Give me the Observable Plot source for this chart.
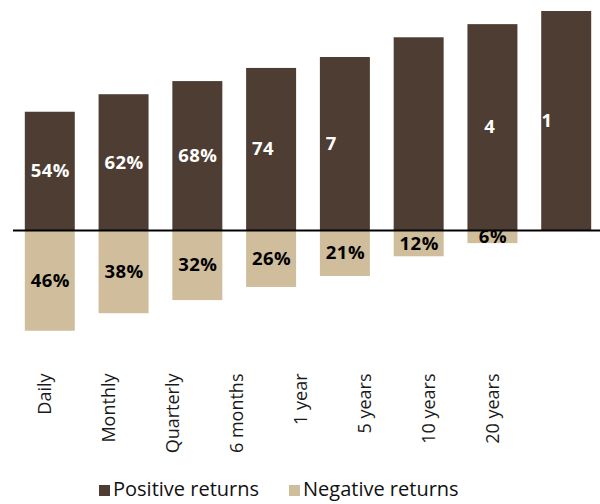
<!DOCTYPE html>
<html>
<head>
<meta charset="utf-8">
<script src="https://cdn.jsdelivr.net/npm/d3@7"></script>
<script src="https://cdn.jsdelivr.net/npm/@observablehq/plot@0.6"></script>
<style>
  body { margin: 0; background: #fff; font-family: "Open Sans", sans-serif; }
  #legend { display: flex; align-items: center; height: 34px; padding-left: 99px; padding-top: 7px; font-size: 20px; color: #111; font-weight: 400; line-height: 1; }
  #legend .item { display: flex; align-items: center; margin-right: 30px; }
  #legend .sw { width: 11px; height: 11px; margin-right: 3px; margin-top: 3px; }
</style>
</head>
<body>
<div id="chart"></div>
<div id="axis"></div>
<div id="legend"></div>
<script>
const periods = ["Daily", "Monthly", "Quarterly", "6 months", "1 year", "5 years", "10 years", "20 years"];
const positive = [54, 62, 68, 74, 79, 88, 94, 100];
const negative = [46, 38, 32, 26, 21, 12, 6, 0];
// glyphs of the positive labels that are actually visible in the reference (space = hidden glyph)
const positiveVisible = ["54%", "62%", "68%", "74 ", "7  ", "   ", " 4 ", "1   "];
const seriesNames = ["Positive returns", "Negative returns"];
const colors = ["#4e3d32", "#cfbd9b"];

const data = periods.map((p, i) => ({period: p, pos: positive[i], neg: negative[i], posLabel: positive[i] + "%", negLabel: negative[i] > 0 ? negative[i] + "%" : ""}));

const chart = Plot.plot({
  width: 600,
  height: 365,
  marginLeft: 13,
  marginRight: 0,
  marginTop: 0,
  marginBottom: 0,
  style: {fontFamily: "'Open Sans', sans-serif", background: "white"},
  x: {domain: periods, range: [13, 603], paddingInner: 0.3225, paddingOuter: 0.16, round: false, axis: null},
  y: {domain: [-100, 100], range: [449, 11], axis: null},
  marks: [
    Plot.barY(data, {x: "period", y: "pos", fill: colors[0]}),
    Plot.barY(data, {x: "period", y: d => -d.neg, fill: colors[1]}),
    Plot.text(data, {x: "period", y: d => d.pos / 2, text: "posLabel", fill: "white", fontSize: 18.5, fontWeight: "bold", className: "poslab"}),
    Plot.text(data.filter(d => d.neg > 0), {x: "period", y: d => -d.neg / 2, text: "negLabel", fill: "black", fontSize: 18.5, fontWeight: "bold"}),
    Plot.ruleY([0], {stroke: "black", strokeWidth: 2})
  ]
});
// hide the glyphs that do not show in the reference, keeping their advance widths
d3.select(chart).selectAll(".poslab text").each(function(d) {
  const full = this.textContent;
  const mask = positiveVisible[d];
  const el = d3.select(this);
  el.text(null);
  for (let k = 0; k < full.length; k++) {
    const t = el.append("tspan").text(full[k]);
    if (!mask[k] || mask[k] === " ") t.attr("fill-opacity", 0);
  }
});
d3.select(chart).selectAll("text").style("letter-spacing", "0.5px");
document.getElementById("chart").appendChild(chart);

const axis = Plot.plot({
  width: 600,
  height: 100,
  margin: 0,
  marginTop: 8,
  style: {fontFamily: "'Open Sans', sans-serif", background: "white"},
  x: {type: "point", domain: periods, range: [45, 493], padding: 0, axis: null},
  marks: [
    Plot.text(periods, {x: d => d, frameAnchor: "top", rotate: -90, textAnchor: "end", lineAnchor: "middle", fontSize: 18, fontWeight: 400, fill: "#1a1a1a"})
  ]
});
document.getElementById("axis").appendChild(axis);

const legend = d3.select("#legend");
seriesNames.forEach((n, i) => {
  const it = legend.append("div").attr("class", "item");
  it.append("div").attr("class", "sw").style("background", colors[i]);
  it.append("span").text(n);
});
</script>
</body>
</html>
